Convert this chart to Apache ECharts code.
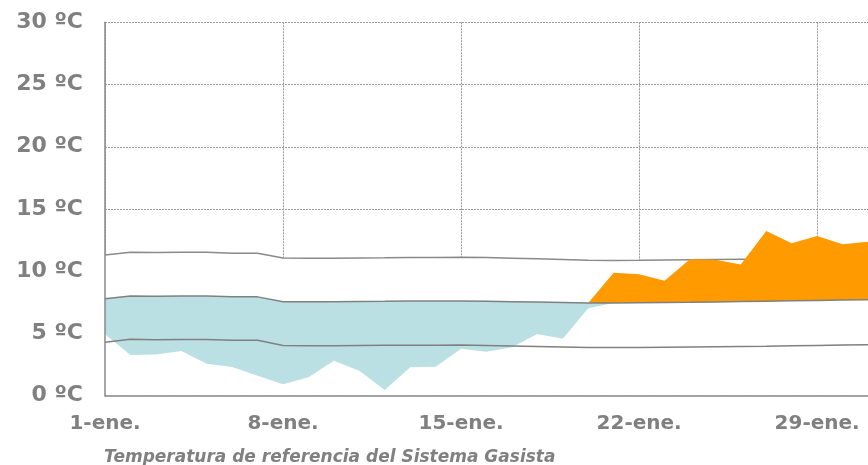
<!DOCTYPE html>
<html>
<head>
<meta charset="utf-8">
<script src="https://cdn.jsdelivr.net/npm/echarts@6/dist/echarts.min.js"></script>
<style>
  html, body { margin: 0; padding: 0; background: #fff; }
  #chart { width: 868px; height: 465px; }
</style>
</head>
<body>
<div id="chart"></div>
<script>
  // dias de enero (1..31)
  var dias = [];
  for (var d = 1; d <= 31; d++) dias.push(d + '-ene.');

  // banda de referencia: maxima, media, minima
  var refMax = [11.3, 11.52, 11.5, 11.52, 11.52, 11.44, 11.44, 11.06, 11.05, 11.05, 11.07, 11.08, 11.1, 11.1, 11.12, 11.1,
    11.05, 11.0, 10.95, 10.88, 10.87, 10.88, 10.9, 10.92, 10.94, 10.96, 10.98, 11.0, 11.02, 11.05, 11.08];
  var refMedia = [7.79, 8.01, 8.0, 8.02, 8.02, 7.94, 7.94, 7.55, 7.55, 7.55, 7.57, 7.58, 7.6, 7.6, 7.6, 7.58,
    7.55, 7.52, 7.48, 7.44, 7.44, 7.46, 7.48, 7.5, 7.53, 7.56, 7.59, 7.62, 7.65, 7.68, 7.7];
  var refMin = [4.29, 4.53, 4.5, 4.52, 4.52, 4.45, 4.45, 4.03, 4.02, 4.02, 4.04, 4.05, 4.06, 4.06, 4.07, 4.04,
    4.0, 3.96, 3.92, 3.88, 3.87, 3.88, 3.9, 3.92, 3.94, 3.96, 3.98, 4.01, 4.04, 4.07, 4.1];

  // temperatura real
  var temperatura = [4.93, 3.27, 3.32, 3.59, 2.57, 2.31, 1.61, 0.91, 1.48, 2.81, 2.01, 0.46, 2.28, 2.33, 3.78, 3.54,
    3.89, 4.96, 4.58, 7.02, 9.88, 9.75, 9.24, 10.96, 10.92, 10.55, 13.23, 12.24, 12.83, 12.16, 12.36];

  var yTicks = [0, 5, 10, 15, 20, 25, 30];

  // tramos apilados: base hasta min(temp, media), azul hasta la media, naranja por encima
  var base = [], frio = [], calor = [];
  temperatura.forEach(function (t, i) {
    var b = Math.min(t, refMedia[i]);
    base.push(b);
    frio.push(+(refMedia[i] - b).toFixed(2));
    calor.push(+Math.max(t - refMedia[i], 0).toFixed(2));
  });

  var gris = '#808080';
  var fuente = 'DejaVu Sans, Verdana, sans-serif';
  var rejilla = { color: '#9a9a9a', width: 1, type: [2, 1] };
  var eje = { color: '#888', width: 1.5 };

  var chart = echarts.init(document.getElementById('chart'));
  chart.setOption({
    animation: false,
    title: {
      text: 'Temperatura de referencia del Sistema Gasista',
      left: 99,
      top: 444,
      textStyle: { color: gris, fontFamily: fuente, fontSize: 17, fontWeight: 'bold', fontStyle: 'italic' }
    },
    grid: { left: 105, top: 22.3, width: 772.5, bottom: 69.3 },
    xAxis: [{
      type: 'category',
      boundaryGap: false,
      data: dias,
      axisLine: { show: false },
      axisTick: { show: false },
      axisLabel: { interval: 6, color: gris, fontFamily: fuente, fontSize: 20, fontWeight: 'bold', margin: 18 },
      splitLine: { show: true, interval: 6, lineStyle: rejilla }
    }, {
      // solo la linea del eje, por encima de las areas
      type: 'category', position: 'bottom', boundaryGap: false, data: dias, z: 10,
      axisLine: { lineStyle: eje }, axisTick: { show: false }, axisLabel: { show: false }, splitLine: { show: false }
    }],
    yAxis: [{
      type: 'value',
      min: yTicks[0],
      max: yTicks[yTicks.length - 1],
      interval: 5,
      axisLine: { show: false },
      axisTick: { show: false },
      axisLabel: {
        color: gris, fontFamily: fuente, fontSize: 22, fontWeight: 'bold', margin: 22,
        formatter: function (v) { return v + ' ºC'; }
      },
      splitLine: { lineStyle: rejilla }
    }, {
      type: 'value', position: 'left', min: 0, max: 30, interval: 5, z: 10,
      axisLine: { show: true, lineStyle: eje }, axisTick: { show: false }, axisLabel: { show: false }, splitLine: { show: false }
    }],
    series: [
      {
        name: 'max', type: 'line', data: refMax, symbol: 'none', z: 2,
        lineStyle: { color: '#8a8a8a', width: 1.5 },
        areaStyle: { color: '#ffffff', opacity: 1 }
      },
      {
        name: 'base', type: 'line', stack: 't', data: base, symbol: 'none', z: 3,
        lineStyle: { opacity: 0 }
      },
      {
        name: 'frio', type: 'line', stack: 't', data: frio, symbol: 'none', z: 3,
        lineStyle: { opacity: 0 },
        areaStyle: { color: '#bbe0e3', opacity: 1 }
      },
      {
        name: 'calor', type: 'line', stack: 't', data: calor, symbol: 'none', z: 3,
        lineStyle: { opacity: 0 },
        areaStyle: { color: '#ff9a00', opacity: 1 }
      },
      {
        name: 'media', type: 'line', data: refMedia, symbol: 'none', z: 4,
        lineStyle: { color: '#808080', width: 1.5 }
      },
      {
        name: 'min', type: 'line', data: refMin, symbol: 'none', z: 4,
        lineStyle: { color: '#808080', width: 1.5 }
      }
    ]
  });
</script>
</body>
</html>
